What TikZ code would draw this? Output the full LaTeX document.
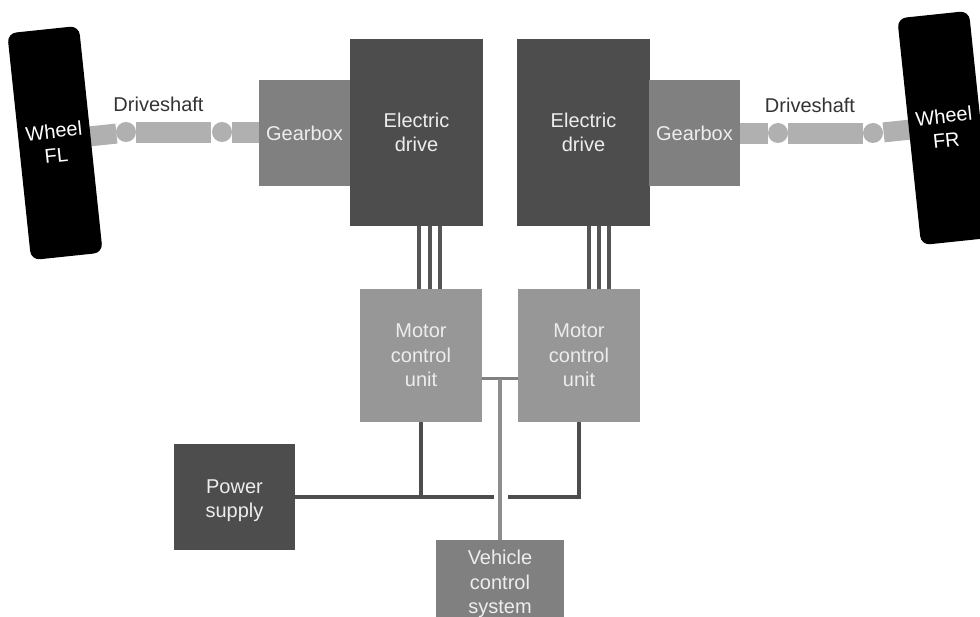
\documentclass[tikz,border=0pt]{standalone}
\usepackage{fontspec}
\setmainfont{Liberation Sans}
\definecolor{dark}{HTML}{4D4D4D}
\definecolor{midg}{HTML}{808080}
\definecolor{lightg}{HTML}{979797}
\definecolor{shaft}{HTML}{B0B0B0}
\definecolor{wire}{HTML}{555555}
\tikzset{
  txt/.style={font=\fontsize{20}{24.3}\selectfont, align=center, inner sep=0pt},
  block/.style={txt, rectangle, text=white!93!black, minimum width=#1},
  dbox/.style 2 args={block=#1, minimum height=#2, fill=dark},
  gbox/.style 2 args={block=#1, minimum height=#2, fill=midg},
  lbox/.style 2 args={block=#1, minimum height=#2, fill=lightg},
  wheelbox/.style={txt, fill=black, text=white, rounded corners=9pt, minimum width=72pt, minimum height=228pt, rotate=6},
  shaftseg/.style 2 args={fill=shaft, inner sep=0pt, minimum width=#1, minimum height=#2},
  joint/.style={circle, fill=shaft, inner sep=0pt, minimum size=20pt},
  caplabel/.style={txt, text=black!80},
  boxlabel/.style={txt, text=white!93!black},
  phase/.style={draw=wire, line width=3.5pt},
  bus/.style={draw=dark, line width=4pt},
  ctl/.style={draw=midg!90!white, line width=4pt},
}
\begin{document}
\begin{tikzpicture}[x=1pt,y=-1pt]
\useasboundingbox (0,0) rectangle (980,617);
\clip (0,0) rectangle (980,617);
% left driveline
\node[shaftseg={27pt}{20pt}, rotate=6] (sL3) at (103,135) {};
\node[wheelbox] (wFL) at (55,143) {Wheel\\FL};
\node[joint] (jL1) at (126,132) {};
\node[shaftseg={75pt}{21pt}] (sL2) at (173.5,132.5) {};
\node[joint] (jL2) at (222,132) {};
\node[shaftseg={28pt}{21pt}] (sL1) at (246,132.5) {};
\node[caplabel] (dL) at (158.5,104.5) {Driveshaft};
% right driveline
\node[shaftseg={28pt}{21pt}] (sR1) at (754,133.5) {};
\node[joint] (jR1) at (778,133) {};
\node[shaftseg={75pt}{21pt}] (sR2) at (825.5,133.5) {};
\node[joint] (jR2) at (873,133) {};
\node[shaftseg={27pt}{20pt}, rotate=6] (sR3) at (897,131) {};
\node[wheelbox] (wFR) at (945,128) {Wheel\\FR};
\node[caplabel] (dR) at (810,105.5) {Driveshaft};
% gearboxes and drives
\node[gbox={91pt}{106pt}] (gL) at (304.5,133) {Gearbox};
\node[dbox={133pt}{187pt}] (eL) at (416.5,132.5) {Electric\\drive};
\node[dbox={133pt}{187pt}] (eR) at (583.5,132.5) {Electric\\drive};
\node[gbox={91pt}{106pt}] (gR) at (694.5,133) {Gearbox};
% control units
\node[lbox={122pt}{133pt}] (mL) at (421,355.5) {Motor\\control\\unit};
\node[lbox={122pt}{133pt}] (mR) at (579,355.5) {Motor\\control\\unit};
\node[dbox={121pt}{106pt}] (ps) at (234.5,497) {};
\node[boxlabel] (psT) at (234.5,500.5) {Power\\supply};
\node[gbox={128pt}{77pt}] (vc) at (500,578.5) {};
\node[boxlabel] (vcT) at (500,584) {Vehicle\\control\\system};
% phase wires
\foreach \x in {419,430,440}{\draw[phase] (eL.south -| \x,0) -- (mL.north -| \x,0);}
\foreach \x in {589,599,609}{\draw[phase] (eR.south -| \x,0) -- (mR.north -| \x,0);}
% power bus
\coordinate (busL) at (421,497);
\coordinate (busGapL) at (494,497);
\coordinate (busGapR) at (508,497);
\coordinate (busR) at (579,497);
\draw[bus] (ps.east) -- (busGapL);
\draw[bus] (mL.south) -- (busL);
\draw[bus] (busGapR) -- (busR) -- (mR.south);
% vehicle control link
\coordinate (vcJ) at (500,379);
\draw[draw=midg, line width=3pt] (mL.east |- vcJ) -- (mR.west |- vcJ);
\draw[ctl] (vcJ) -- (vc.north);
\end{tikzpicture}
\end{document}
